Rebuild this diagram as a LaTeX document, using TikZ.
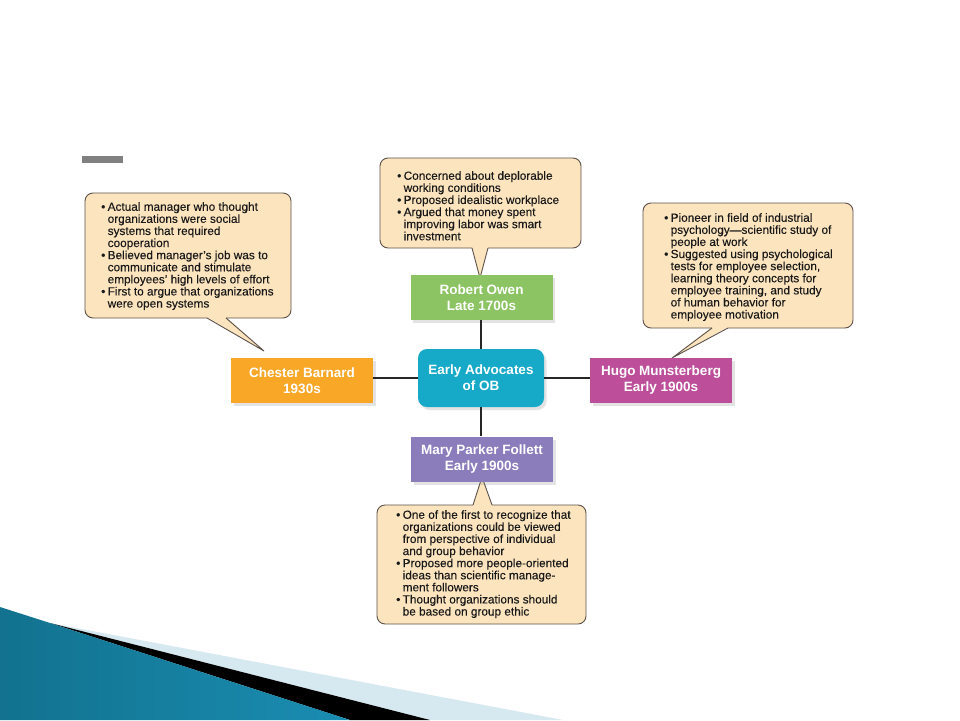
\documentclass[tikz,border=0pt]{standalone}
\usepackage{fontspec}
\setmainfont{Liberation Sans}
\newfontfamily\bubfont[FakeBold=0.15]{Liberation Sans}
\usetikzlibrary{shadows}
\definecolor{bubfill}{HTML}{FCE4BF}
\definecolor{bubline}{HTML}{5C5249}
\definecolor{cbarnard}{HTML}{F8A727}
\definecolor{cowen}{HTML}{8CC363}
\definecolor{ccenter}{HTML}{16A9C8}
\definecolor{chugo}{HTML}{BC4E9A}
\definecolor{cmary}{HTML}{8B7DBB}
\definecolor{wedgedark}{HTML}{12728F}
\definecolor{wedgemid}{HTML}{58BEDF}
\definecolor{wedgeend}{HTML}{1A8DB2}
\definecolor{wedgelight}{HTML}{D6E8F0}
\newcommand{\bl}{\makebox[6.5pt][l]{•}}
\newcommand{\ct}{\hspace*{6.5pt}}
\tikzset{
  bubblefill/.style={fill=bubfill},
  bubbleedge/.style={draw=bubline, line width=0.9pt},
  bubbletext/.style={anchor=north west, inner sep=0pt, align=left, text=black!90,
    font=\bubfont\fontsize{11.8}{12.1}\selectfont},
  box/.style={minimum width=142pt, minimum height=45pt, text=white, inner sep=0pt,
    align=center, font=\fontsize{13.5}{16}\selectfont\bfseries,
    drop shadow={shadow xshift=2.5pt, shadow yshift=-3pt, opacity=0.22}},
  conn/.style={draw=black!85, line width=1.5pt}
}
\begin{document}
\begin{tikzpicture}[x=1pt,y=-1pt]
\useasboundingbox (0,0) rectangle (960,720);
\fill[white] (0,0) rectangle (960,720);

% bottom-left decoration
\fill[wedgelight] (50,623) -- (563,720) -- (430,720) -- cycle;
\fill[black] (50,623) -- (430,720) -- (350,720) -- cycle;
\shade[left color=wedgedark, middle color=wedgemid, right color=wedgeend]
  (0,607) -- (50,623) -- (350,720) -- (0,720) -- cycle;

% grey title bar
\fill[black!50] (82,156) rectangle (123,163);

% Chester bubble
\fill[bubblefill, rounded corners=8pt] (85,193) rectangle (291,318);
\fill[bubblefill] (207,317) -- (264,351) -- (226,317) -- cycle;
\draw[bubbleedge, rounded corners=8pt] (226,318) -- (291,318) -- (291,193) -- (85,193) -- (85,318) -- (207,318);
\draw[bubbleedge] (207,318) -- (264,351) -- (226,318);

% Owen bubble
\fill[bubblefill, rounded corners=8pt] (380,158) rectangle (581,248);
\fill[bubblefill] (472,247) -- (480,278) -- (488,247) -- cycle;
\draw[bubbleedge, rounded corners=8pt] (488,248) -- (581,248) -- (581,158) -- (380,158) -- (380,248) -- (472,248);
\draw[bubbleedge] (472,248) -- (480,278) -- (488,248);

% Hugo bubble
\fill[bubblefill, rounded corners=8pt] (643,203) rectangle (853,328);
\fill[bubblefill] (712,327) -- (672,358) -- (728,327) -- cycle;
\draw[bubbleedge, rounded corners=8pt] (728,328) -- (853,328) -- (853,203) -- (643,203) -- (643,328) -- (712,328);
\draw[bubbleedge] (712,328) -- (672,358) -- (728,328);

% Mary bubble
\fill[bubblefill, rounded corners=8pt] (377,505) rectangle (586,624);
\fill[bubblefill] (473,506) -- (482,477) -- (492,506) -- cycle;
\draw[bubbleedge, rounded corners=8pt] (473,505) -- (377,505) -- (377,624) -- (586,624) -- (586,505) -- (492,505);
\draw[bubbleedge] (473,505) -- (482,477) -- (492,505);

% bubble texts
\node[bubbletext] (tbarnard) at (101,202) {\bl Actual manager who thought\\ \ct organizations were social\\ \ct systems that required\\ \ct cooperation\\ \bl Believed manager’s job was to\\ \ct communicate and stimulate\\ \ct employees’ high levels of effort\\ \bl First to argue that organizations\\ \ct were open systems};
\node[bubbletext] (towen) at (397,171) {\bl Concerned about deplorable\\ \ct working conditions\\ \bl Proposed idealistic workplace\\ \bl Argued that money spent\\ \ct improving labor was smart\\ \ct investment};
\node[bubbletext] (thugo) at (664,213) {\bl Pioneer in field of industrial\\ \ct psychology—scientific study of\\ \ct people at work\\ \bl Suggested using psychological\\ \ct tests for employee selection,\\ \ct learning theory concepts for\\ \ct employee training, and study\\ \ct of human behavior for\\ \ct employee motivation};
\node[bubbletext] (tmary) at (396,510) {\bl One of the first to recognize that\\ \ct organizations could be viewed\\ \ct from perspective of individual\\ \ct and group behavior\\ \bl Proposed more people-oriented\\ \ct ideas than scientific manage-\\ \ct ment followers\\ \bl Thought organizations should\\ \ct be based on group ethic};

% boxes
\node[box, fill=ccenter, rounded corners=9pt, minimum width=126pt, minimum height=58pt] (center) at (481,378) {Early Advocates\\of OB};
\node[box, fill=cbarnard] (barnard) at (302,380.5) {Chester Barnard\\1930s};
\node[box, fill=cowen] (owen) at (481.5,297.5) {Robert Owen\\Late 1700s};
\node[box, fill=chugo] (hugo) at (661,380.5) {Hugo Munsterberg\\Early 1900s};
\node[box, fill=cmary] (mary) at (482,459) {Mary Parker Follett\\Early 1900s};

% connectors
\draw[conn] (center.west) -- (center.west -| barnard.east);
\draw[conn] (center.east) -- (center.east -| hugo.west);
\draw[conn] (center.north) -- (center.north |- owen.south);
\draw[conn] (center.south) -- (center.south |- mary.north);
\end{tikzpicture}
\end{document}
